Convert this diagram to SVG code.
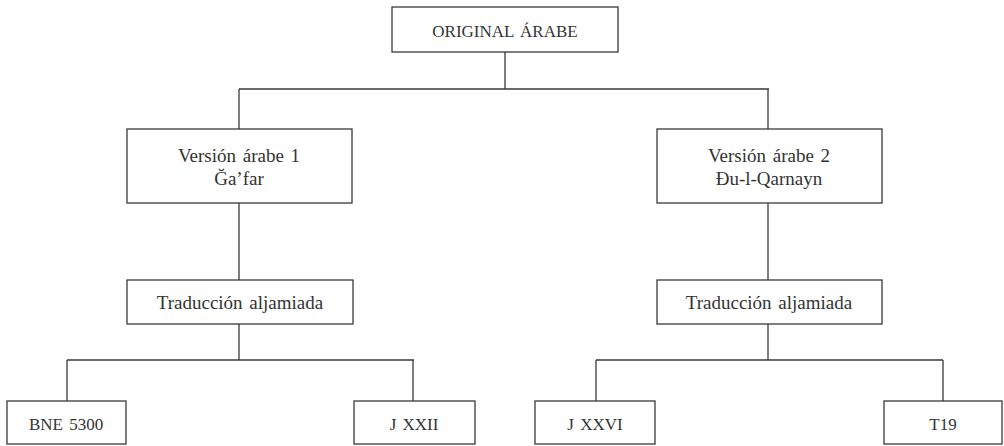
<svg xmlns="http://www.w3.org/2000/svg" width="1004" height="446" viewBox="0 0 1004 446">
<style>
.box{fill:#fff;stroke:#3a3a3a;stroke-width:1.3}
.ln{fill:none;stroke:#3a3a3a;stroke-width:1.3}
text{font-family:"Liberation Serif","Times New Roman",serif;font-size:19px;fill:#333;text-anchor:middle;word-spacing:2px}
text.caps{font-size:17px}
</style>
<rect width="1004" height="446" fill="#fff"/>
<g id="connectors">
<path class="ln" d="M505 52V89M239 89H769M239 89V129M768 89V129"/>
<path class="ln" d="M239 203V280M768 203V280"/>
<path class="ln" d="M239 324V360M67 360H414M67 360V401M413 360V401"/>
<path class="ln" d="M768 324V360M596 360H943M596 360V401M943 360V401"/>
</g>
<g id="n-original"><rect class="box" x="392" y="7" width="226" height="45"/><text class="caps" x="505" y="37">ORIGINAL ÁRABE</text></g>
<g id="n-v1"><rect class="box" x="127" y="129" width="225" height="74"/><text x="239" y="162">Versión árabe 1</text><text x="239" y="185">Ğa’far</text></g>
<g id="n-v2"><rect class="box" x="657" y="129" width="225" height="74"/><text x="769" y="162">Versión árabe 2</text><text x="769" y="185">Đu-l-Qarnayn</text></g>
<g id="n-t1"><rect class="box" x="127" y="280" width="226" height="44"/><text x="240" y="309">Traducción aljamiada</text></g>
<g id="n-t2"><rect class="box" x="657" y="280" width="225" height="44"/><text x="769" y="309">Traducción aljamiada</text></g>
<g id="n-bne"><rect class="box" x="7" y="401" width="119" height="43"/><text class="caps" x="66" y="430">BNE 5300</text></g>
<g id="n-jxxii"><rect class="box" x="354" y="401" width="121" height="43"/><text class="caps" x="414" y="430">J XXII</text></g>
<g id="n-jxxvi"><rect class="box" x="535" y="401" width="120" height="43"/><text class="caps" x="595" y="430">J XXVI</text></g>
<g id="n-t19"><rect class="box" x="884" y="401" width="118" height="43"/><text class="caps" x="943" y="430">T19</text></g>
</svg>
